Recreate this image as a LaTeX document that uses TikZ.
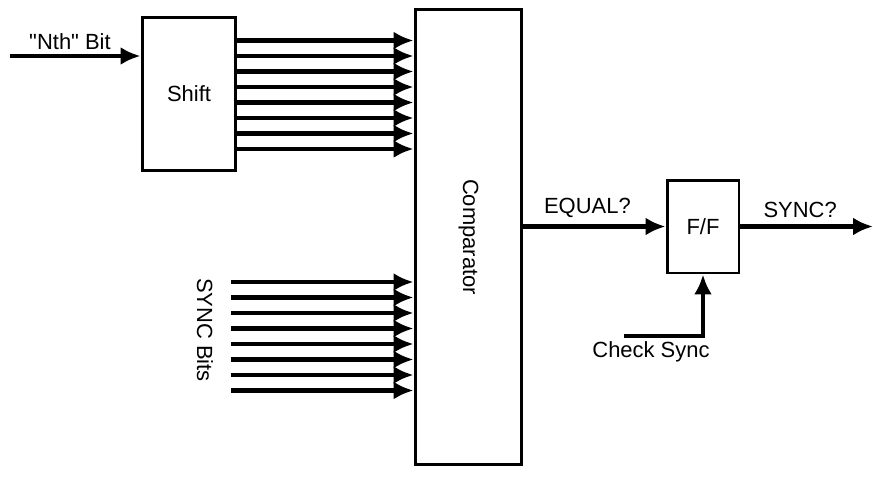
\documentclass[tikz,border=0pt]{standalone}
\usepackage{fontspec}
\setmainfont{Liberation Sans}
\usepackage{tikz}
\usetikzlibrary{arrows.meta,calc,positioning}
\definecolor{wireblack}{HTML}{000000}
\tikzset{
  block/.style={draw=wireblack, line width=1.7pt, rectangle, inner sep=0pt, align=center, font=\fontsize{12.5}{14}\selectfont},
  wire/.style={wireblack, -{Latex[length=0.40cm, width=0.36cm]}, line width=2.4pt},
  wirelabel/.style={font=\fontsize{12.5}{14}\selectfont, inner sep=1pt}
}
\begin{document}
\begin{tikzpicture}[x=0.02cm, y=-0.02cm]
  \useasboundingbox (0,0) rectangle (873,477);
  % blocks
  \node[block, minimum width=1.88cm, minimum height=3.08cm] (shift) at (189,94) {Shift};
  \node[block, minimum width=2.14cm, minimum height=9.12cm] (comp) at (468.5,237) {};
  \node[rotate=-90, wirelabel] at (comp.center) {Comparator};
  \node[block, minimum width=1.44cm, minimum height=1.86cm] (ff) at (703,226.5) {F/F};
  % input bit
  \coordinate (nthin) at (10,56);
  \draw[wire] (nthin) -- (nthin -| shift.west);
  \node[wirelabel] (nthlabel) at (70,42) {\textquotedbl Nth\textquotedbl\ Bit};
  % shifted bits to comparator
  \foreach \y in {40.5,56,71.5,87,102.5,118,133.5,149}
    \draw[wire] (shift.east |- 0,\y) -- (comp.west |- 0,\y);
  % sync bits to comparator
  \foreach \y in {282,297.5,313,328.5,344,359.5,375,390.5}
    \draw[wire] (231,\y) -- (comp.west |- 0,\y);
  \node[rotate=-90, wirelabel] (synclabel) at (205,330) {SYNC Bits};
  % comparator to flip-flop
  \draw[wire] (comp.east |- ff.west) -- (ff.west) node[wirelabel, pos=0.45, above=3pt] {EQUAL?};
  \coordinate (syncout) at (873,226.5);
  \draw[wire] (ff.east) -- (syncout) node[wirelabel, pos=0.45, above=3pt] {SYNC?};
  % check sync
  \coordinate (checkin) at (624,336);
  \draw[wire] (checkin) -| (ff.south);
  \node[wirelabel] (checklabel) at (651,352) {Check Sync};
\end{tikzpicture}
\end{document}
